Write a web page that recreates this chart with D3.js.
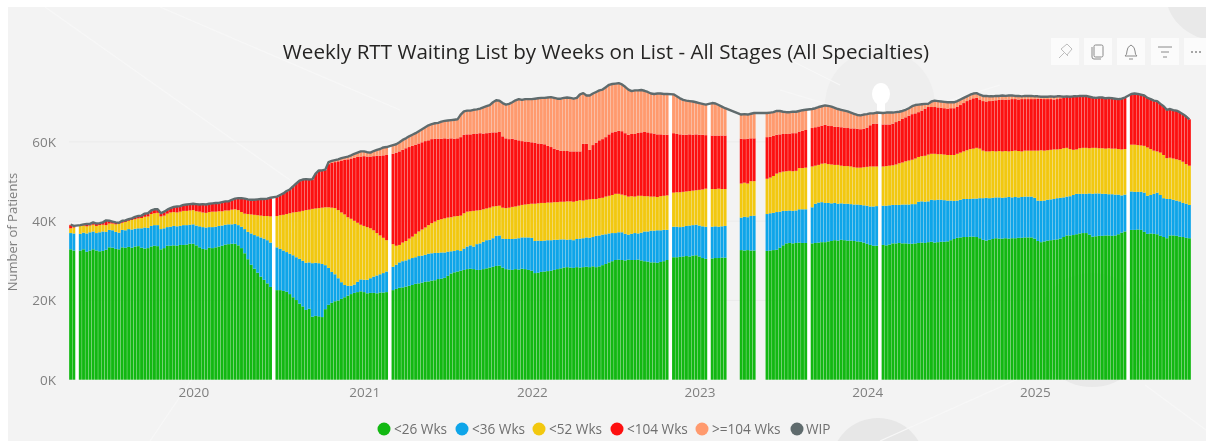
<!DOCTYPE html>
<html>
<head>
<meta charset="utf-8">
<script src="https://cdn.jsdelivr.net/npm/d3@7/dist/d3.min.js"></script>
<style>
html,body{margin:0;padding:0;background:#fff;overflow:hidden}
svg{display:block;filter:blur(0.45px)}
text{font-family:"Open Sans","Noto Sans",sans-serif}
</style>
</head>
<body>
<svg id="c" width="1206" height="441"></svg>
<script>
// Weekly levels, in thousands of patients.
// Each array is the running level at the TOP of a band; null = week with no data.
const _ = null;
const level26 = [
32.9,32.6,_,32.6,32.9,32.3,32.6,32.9,32.6,32.4,
32.5,32.8,33.4,33.3,33.0,32.9,33.4,33.3,33.5,33.3,
33.6,33.7,33.3,33.1,33.2,33.6,33.8,33.7,32.9,33.2,
33.8,33.8,33.9,33.8,34.0,34.0,34.1,34.3,34.3,33.9,
33.4,33.0,32.9,33.3,33.2,33.4,33.6,33.8,34.1,34.2,
34.3,34.3,33.9,33.2,31.9,30.4,29.0,28.0,27.0,26.0,
25.2,24.3,23.4,_,22.6,22.6,22.4,22.2,21.6,20.8,
20.1,19.2,18.5,17.6,17.9,15.9,16.1,16.0,15.8,17.8,
18.9,19.4,19.8,20.0,20.4,20.8,21.2,21.6,21.9,22.1,
22.3,22.1,21.8,21.9,21.9,21.8,22.0,22.0,22.1,_,
22.6,22.9,23.2,23.3,23.5,23.7,23.9,24.2,24.3,24.5,
24.7,24.8,25.0,25.1,25.4,25.5,25.7,26.2,26.8,27.1,
27.3,27.5,27.7,27.9,28.0,27.9,27.7,27.7,27.9,28.1,
28.3,28.5,28.7,28.8,28.3,27.9,27.8,27.7,27.9,27.8,
28.0,27.9,27.7,27.5,26.9,27.0,27.2,27.3,27.4,27.5,
27.7,27.9,28.1,28.3,28.4,28.3,28.2,28.4,28.3,28.4,
28.5,28.4,28.6,28.4,28.6,28.9,29.2,29.6,29.9,30.2,
30.3,30.2,30.1,30.3,30.2,30.2,30.3,30.1,29.9,29.8,
29.6,29.6,29.5,29.7,29.9,30.2,_,30.9,30.9,31.0,
31.1,31.2,31.1,31.3,31.4,31.1,30.7,30.5,_,30.6,
30.7,30.7,30.8,30.8,_,_,_,_,32.7,32.6,
32.7,32.6,32.6,_,_,_,32.5,32.6,32.7,32.8,
33.3,33.9,34.4,34.5,34.4,34.5,34.6,34.5,34.5,_,
34.4,34.5,34.6,34.7,34.7,34.9,35.0,35.2,35.1,35.3,
35.2,35.1,35.1,35.0,34.9,34.8,34.6,34.3,34.0,33.8,
33.8,_,34.0,33.9,34.1,34.4,34.4,34.5,34.4,34.4,
34.3,34.3,34.4,34.5,34.6,34.5,34.7,34.8,34.6,34.7,
34.8,34.8,34.9,35.2,35.5,35.8,35.9,36.0,36.0,36.1,
36.1,36.0,35.7,35.3,35.1,35.3,35.5,35.7,35.6,35.6,
35.7,35.6,35.7,35.7,35.8,35.8,35.9,35.9,35.9,35.6,
35.0,34.7,34.9,35.1,35.2,35.3,35.4,35.6,36.0,36.4,
36.4,36.5,36.7,36.9,37.0,37.0,36.6,36.1,36.2,36.3,
36.3,36.4,36.4,36.3,36.4,36.7,37.1,37.4,_,37.8,
37.8,37.9,37.8,37.3,36.8,36.9,36.8,36.7,36.3,36.0,
35.7,36.4,36.4,36.3,36.1,36.0,35.8,35.7];
const level36 = [
37.0,36.9,_,36.8,37.1,36.9,37.2,37.4,37.0,37.2,
37.4,37.3,37.8,37.7,37.3,37.1,37.8,37.7,38.0,37.9,
38.1,38.2,38.2,38.4,38.3,38.8,39.0,39.0,38.0,38.2,
38.5,38.6,38.8,38.7,38.8,39.0,39.0,39.1,39.2,38.9,
38.7,38.5,38.4,38.5,38.5,38.6,38.8,38.9,39.1,39.2,
39.2,39.3,39.0,38.6,38.0,37.3,36.9,36.5,36.2,35.9,
35.6,35.2,34.6,_,33.4,33.0,32.6,32.2,31.8,31.4,
30.9,30.5,30.0,29.5,29.6,29.4,29.5,29.4,29.2,28.9,
28.2,27.2,26.6,25.6,24.6,23.9,23.7,23.7,24.0,24.7,
25.3,25.2,25.2,25.6,26.0,26.3,26.6,26.9,27.3,_,
28.5,29.0,29.6,29.9,30.1,30.4,30.7,30.9,31.2,31.3,
31.5,31.8,31.9,32.0,32.0,32.1,32.1,32.3,32.4,32.5,
32.7,32.5,33.1,33.6,33.9,33.6,34.2,34.4,34.8,35.2,
35.3,35.7,36.3,36.4,35.6,35.5,35.5,35.5,35.6,35.7,
35.9,35.9,35.9,35.8,35.0,35.1,35.0,35.1,35.2,35.2,
35.3,35.3,35.4,35.4,35.3,35.4,35.2,35.5,35.6,35.7,
35.9,35.8,36.0,36.3,36.4,36.6,36.7,36.9,37.0,37.0,
37.2,37.2,36.8,36.6,36.8,37.0,36.9,37.1,37.4,37.4,
37.6,37.6,37.7,37.7,37.8,37.8,_,38.6,38.6,38.5,
38.6,38.8,38.9,39.0,39.1,38.9,38.7,38.6,_,38.6,
38.7,38.6,38.7,38.8,_,_,_,_,40.9,41.1,
41.0,41.3,41.4,_,_,_,41.8,42.0,42.1,42.3,
42.4,42.6,42.6,42.7,42.6,42.7,43.0,43.0,43.0,_,
43.5,44.4,44.7,44.8,44.6,44.6,44.5,44.6,44.4,44.5,
44.4,44.4,44.3,44.2,44.2,44.1,44.0,43.9,43.7,43.7,
43.8,_,43.9,43.9,44.0,44.1,44.1,44.1,44.2,44.2,
44.2,44.3,44.3,44.9,45.0,44.9,45.0,45.4,45.3,45.4,
45.4,45.3,45.2,45.2,45.1,45.2,45.4,45.6,45.6,45.6,
45.7,45.7,45.8,45.8,45.9,45.8,45.9,46.0,46.0,45.9,
46.0,46.1,46.0,46.1,46.0,46.1,46.2,46.2,46.2,45.9,
45.2,45.1,45.2,45.4,45.5,45.6,45.8,45.9,46.0,46.2,
46.3,46.6,46.9,46.9,46.9,46.9,47.0,46.9,47.0,47.0,
46.9,46.9,46.8,46.8,46.7,46.7,46.5,46.7,_,47.5,
47.4,47.4,47.4,47.2,46.4,46.6,46.9,47.2,46.6,45.8,
45.6,45.6,45.4,45.2,45.0,44.6,44.4,44.1];
const level52 = [
38.2,38.4,_,38.8,38.9,38.7,38.9,39.1,38.8,39.0,
39.1,39.0,39.4,39.4,39.2,39.3,39.6,39.8,40.1,40.3,
40.5,40.7,40.8,41.1,41.2,41.8,42.0,42.1,41.2,41.4,
41.9,42.2,42.3,42.2,42.4,42.6,42.6,42.7,42.8,42.5,
42.4,42.2,42.1,42.3,42.4,42.4,42.5,42.5,42.7,42.7,
42.9,43.0,42.8,42.3,41.9,41.8,41.7,41.6,41.5,41.4,
41.3,41.3,41.2,_,41.3,41.5,41.6,41.8,42.0,42.2,
42.3,42.4,42.6,42.8,42.9,43.1,43.2,43.3,43.4,43.5,
43.5,43.4,43.3,42.8,42.2,41.7,41.0,40.6,40.1,39.6,
39.1,38.8,38.5,38.2,37.7,37.0,36.4,35.8,35.2,_,
34.2,33.8,34.0,34.6,35.0,35.6,36.1,36.8,37.4,37.9,
38.4,39.0,39.5,39.9,40.3,40.5,40.7,40.9,41.0,41.2,
41.3,41.4,42.0,42.4,42.5,42.6,42.7,42.8,43.0,43.2,
43.4,43.7,43.8,43.9,43.4,43.3,43.4,43.6,43.7,43.9,
44.1,44.2,44.3,44.4,44.4,44.5,44.6,44.6,44.7,44.7,
44.8,44.8,44.9,44.9,45.0,45.0,44.9,45.1,45.3,45.2,
45.4,45.5,45.6,45.6,45.8,45.9,46.2,46.4,46.6,46.9,
46.9,46.7,46.5,46.2,46.3,46.2,46.4,46.4,46.3,46.3,
46.2,46.2,46.1,46.3,46.4,46.5,_,47.2,47.3,47.3,
47.4,47.5,47.6,47.7,47.8,47.9,48.0,48.2,_,48.1,
48.1,48.2,48.1,48.1,_,_,_,_,49.5,49.7,
49.5,50.1,50.1,_,_,_,50.7,51.0,51.4,52.0,
52.3,52.5,52.6,52.7,52.6,52.7,53.4,53.4,53.5,_,
53.8,54.0,54.2,54.5,54.6,54.4,54.3,54.2,54.2,54.0,
53.9,53.9,53.8,53.6,53.5,53.5,53.6,53.7,53.8,53.8,
53.8,_,53.8,53.9,54.0,54.1,54.3,54.6,54.8,55.1,
55.3,55.5,55.8,56.2,56.4,56.5,56.8,57.0,57.0,56.9,
56.9,56.8,56.7,56.7,56.7,57.0,57.3,57.6,57.9,58.2,
58.3,58.5,58.3,57.8,57.6,57.6,57.7,57.6,57.7,57.6,
57.7,57.6,57.7,57.8,57.7,57.6,57.8,57.8,57.8,57.8,
57.8,57.9,57.8,57.9,58.0,58.1,58.1,58.2,58.4,58.5,
58.2,58.0,58.1,58.4,58.5,58.5,58.4,58.5,58.5,58.4,
58.4,58.3,58.4,58.3,58.3,58.2,58.1,58.2,_,59.3,
59.3,59.2,59.1,59.0,58.6,58.2,57.8,57.6,57.3,56.7,
55.9,56.0,55.8,55.6,55.4,55.0,54.4,54.0];
const level104 = [
39.0,38.7,_,38.9,39.1,39.2,39.2,39.6,39.3,39.4,
39.6,40.1,40.0,39.8,39.6,39.5,40.0,40.1,40.4,40.6,
41.0,41.2,41.3,41.8,41.9,42.6,42.9,42.9,41.9,42.3,
42.8,43.2,43.5,43.6,43.7,44.0,44.1,44.2,44.3,44.2,
44.1,44.2,44.1,44.3,44.4,44.5,44.5,44.7,44.9,44.9,
45.3,45.6,45.7,45.7,45.6,45.4,45.3,45.3,45.4,45.5,
45.5,45.6,45.8,_,46.1,46.5,46.9,47.5,47.9,48.7,
49.4,50.1,50.4,50.5,50.4,50.5,51.9,52.7,52.7,52.9,
54.4,54.7,54.9,55.1,55.3,55.5,55.6,55.8,56.0,56.2,
56.3,56.4,56.3,56.3,56.4,56.5,56.5,56.6,56.7,_,
57.0,57.3,57.6,58.0,58.4,58.7,59.0,59.3,59.6,59.9,
60.2,60.4,60.7,60.8,60.8,60.8,60.9,60.8,60.9,60.8,
60.9,61.2,61.8,61.9,61.9,62.0,62.1,62.2,62.1,62.2,
62.3,62.4,62.4,62.5,61.4,60.9,60.7,60.8,60.6,60.4,
60.2,60.1,60.0,59.9,59.8,59.6,59.5,59.4,59.0,58.7,
58.3,58.0,57.8,57.7,57.7,57.6,57.6,57.6,57.6,59.5,
59.5,58.0,59.2,59.8,60.4,60.7,61.2,61.9,62.4,62.6,
62.8,62.7,62.2,61.8,62.0,62.0,62.3,62.4,62.5,62.4,
62.2,62.1,61.9,61.9,61.8,61.8,_,62.2,62.0,61.9,
61.8,61.8,61.9,61.8,61.9,61.8,61.8,61.7,_,61.6,
61.6,61.6,61.6,61.6,_,_,_,_,60.8,60.7,
60.8,60.9,60.9,_,_,_,61.2,61.3,61.5,61.8,
61.9,62.0,62.0,62.1,62.2,62.2,62.6,62.8,63.0,_,
63.5,63.7,63.9,64.1,64.3,64.1,64.0,63.8,63.8,63.7,
63.6,63.5,63.4,63.4,63.3,63.2,63.3,63.6,64.2,64.6,
64.6,_,64.4,64.4,64.4,64.6,65.0,65.3,65.8,66.2,
66.6,67.0,67.2,67.5,67.9,68.4,68.8,68.8,68.8,68.7,
68.6,68.5,68.4,68.5,68.5,68.9,69.3,69.8,70.3,70.7,
71.0,71.1,70.7,70.3,70.2,70.3,70.4,70.5,70.6,70.7,
70.6,70.7,70.8,70.8,70.7,70.8,70.8,70.8,70.8,70.8,
70.9,70.9,70.8,70.8,70.8,70.7,70.8,71.0,71.2,71.4,
71.4,71.5,71.5,71.6,71.6,71.6,71.4,71.2,71.1,71.2,
71.2,71.0,71.1,71.0,70.9,70.8,70.9,71.2,_,72.1,
72.2,72.1,71.9,71.7,71.1,70.8,70.4,70.3,69.6,69.0,
68.1,68.3,68.0,67.9,67.5,67.0,66.4,65.7];
const wip = [
39.1,38.8,_,39.0,39.2,39.3,39.3,39.7,39.4,39.5,
39.7,40.2,40.1,39.9,39.7,39.6,40.1,40.2,40.5,40.7,
41.1,41.3,41.4,41.9,42.0,42.7,43.0,43.0,42.0,42.4,
42.9,43.3,43.6,43.7,43.8,44.1,44.2,44.3,44.4,44.3,
44.2,44.3,44.2,44.4,44.5,44.6,44.6,44.8,45.0,45.0,
45.4,45.7,45.8,45.8,45.7,45.5,45.4,45.4,45.5,45.6,
45.6,45.7,45.9,_,46.2,46.6,47.0,47.6,48.0,48.8,
49.5,50.2,50.5,50.6,50.5,50.6,52.0,52.8,52.8,53.0,
54.9,55.2,55.4,55.6,55.9,56.1,56.3,56.6,57.0,57.3,
57.6,57.6,57.4,57.3,57.7,58.0,58.2,58.6,58.7,_,
59.2,59.4,59.9,60.5,60.9,61.4,61.8,62.2,62.7,63.2,
63.7,64.2,64.5,64.7,64.8,65.1,65.3,65.4,65.5,65.6,
65.7,66.9,67.7,67.9,67.9,68.1,68.2,68.4,68.7,69.0,
69.3,70.0,70.5,70.4,69.8,69.4,69.6,70.0,70.5,70.8,
70.6,70.8,70.8,70.8,70.9,71.0,71.1,71.1,71.2,71.3,
71.1,70.9,70.9,71.1,71.2,71.1,70.9,71.1,72.0,72.3,
71.7,71.7,72.2,72.6,73.0,73.2,73.8,74.4,74.6,74.7,
74.8,74.5,73.9,73.2,72.8,73.0,73.0,73.1,72.9,72.6,
72.2,72.1,72.2,72.2,72.1,72.1,_,72.0,71.5,71.0,
70.6,70.4,70.3,70.2,70.0,69.8,69.6,69.4,_,69.8,
69.7,69.3,68.9,68.5,_,_,_,_,66.9,67.0,
66.9,67.1,67.3,_,_,_,67.3,67.4,67.5,67.8,
67.8,67.6,67.5,67.5,67.6,67.6,67.8,68.0,68.1,_,
68.3,68.5,68.8,69.0,69.2,69.1,68.9,68.6,68.3,68.1,
67.9,67.7,67.4,67.1,66.8,66.7,66.9,67.0,67.2,67.2,
67.4,_,67.3,67.4,67.4,67.4,67.5,67.6,67.8,68.1,
68.5,69.0,69.3,69.4,69.5,69.6,69.6,70.2,70.4,70.3,
70.2,70.1,70.0,70.0,70.0,70.3,70.7,71.1,71.5,71.9,
72.2,72.3,71.9,71.6,71.6,71.5,71.5,71.6,71.6,71.7,
71.6,71.7,71.7,71.6,71.6,71.5,71.6,71.6,71.6,71.5,
71.5,71.4,71.4,71.4,71.5,71.4,71.5,71.5,71.4,71.5,
71.4,71.5,71.5,71.6,71.6,71.6,71.4,71.2,71.1,71.2,
71.2,71.0,71.1,71.0,70.9,70.8,70.9,71.2,_,72.1,
72.2,72.1,71.9,71.7,71.1,70.8,70.4,70.3,69.6,69.0,
68.1,68.3,68.0,67.9,67.5,67.0,66.4,65.7];

const seriesNames = ["<26 Wks","<36 Wks","<52 Wks","<104 Wks",">=104 Wks"];
const seriesColors = ["#12b812","#0ea5e9","#f2c80f","#fd1010","#ff9a6e"];
const lineName = "WIP", lineColor = "#5f6b6d";
const yearLabels = [2020,2021,2022,2023,2024,2025];
const yTicks = [0,20,40,60];
const titleText = "Weekly RTT Waiting List by Weeks on List - All Stages (All Specialties)";
const yTitle = "Number of Patients";

const W = 1206, H = 441;
const svg = d3.select("#c");
const weeks = d3.timeWeek.range(new Date(2019,2,31), new Date(2025,11,28)).slice(0, wip.length)
  .map(d => d3.timeDay.offset(d,1));

// panel + faint background artwork
svg.append("rect").attr("width",W).attr("height",H).attr("fill","#fff");
svg.append("rect").attr("x",8).attr("y",7).attr("width",W-8).attr("height",H-7).attr("fill","#f3f3f3");
const art = svg.append("g");
svg.append("clipPath").attr("id","p").append("rect").attr("x",8).attr("y",7).attr("width",W-8).attr("height",H-7);
art.attr("clip-path","url(#p)");
[[1215,-10,50,"#e9e9e9"],[880,105,55,"#eeeeee"],[878,465,47,"#e7e7e7"],[1092,330,57,"#e9e9e9"]].forEach(c=>
  art.append("circle").attr("cx",c[0]).attr("cy",c[1]).attr("r",c[2]).attr("fill",c[3]));
[[45,7,290,180],[160,7,400,110],[340,160,150,441],[1020,378,880,441],[1145,385,1206,430],[790,60,840,85],[780,90,830,105],[935,105,1000,85]].forEach(l=>
  art.append("line").attr("x1",l[0]).attr("y1",l[1]).attr("x2",l[2]).attr("y2",l[3]).attr("stroke","#f7f7f7").attr("stroke-width",1.2));
art.append("ellipse").attr("cx",881).attr("cy",94).attr("rx",9).attr("ry",11).attr("fill","#fff");
art.append("rect").attr("x",877).attr("y",100).attr("width",8).attr("height",14).attr("fill","#fff");

const x = d3.scaleBand().domain(weeks).range([69,1191]).paddingInner(0.1).paddingOuter(0.05);
const y = d3.scaleLinear().domain([0,60]).range([379.7,141.9]);

// gridlines
svg.append("g").selectAll("line").data(yTicks.slice(1)).join("line")
  .attr("x1",69).attr("x2",1191).attr("y1",d=>y(d)).attr("y2",d=>y(d))
  .attr("stroke","#ebebeb").attr("stroke-width",1);

// rows: band sizes derived from the levels
const rows = weeks.map((d,i)=>({
  date:d,
  [seriesNames[0]]:level26[i],
  [seriesNames[1]]:level36[i]===null?null:level36[i]-level26[i],
  [seriesNames[2]]:level52[i]===null?null:level52[i]-level36[i],
  [seriesNames[3]]:level104[i]===null?null:level104[i]-level52[i],
  [seriesNames[4]]:wip[i]===null?null:wip[i]-level104[i],
  total:wip[i]
}));
const present = rows.filter(r=>r.total!==null);
const stacked = d3.stack().keys(seriesNames)(present);

// single missing weeks show as white stripes in the reference
const singleGaps = rows.filter((r,i)=>r.total===null && rows[i-1] && rows[i+1] && rows[i-1].total!==null && rows[i+1].total!==null);
svg.append("g").selectAll("rect").data(singleGaps).join("rect")
  .attr("x",r=>x(r.date)-0.6).attr("width",x.step()+0.6)
  .attr("y",r=>y(rows[rows.indexOf(r)-1].total)).attr("height",r=>y(0)-y(rows[rows.indexOf(r)-1].total))
  .attr("fill","#ffffff");

svg.append("g").selectAll("g").data(stacked).join("g")
  .attr("fill",(d,i)=>seriesColors[i])
  .selectAll("rect").data(d=>d).join("rect")
  .attr("x",d=>x(d.data.date)).attr("width",x.bandwidth())
  .attr("y",d=>y(d[1])).attr("height",d=>Math.max(0,y(d[0])-y(d[1])));

// WIP line
const line = d3.line().x(d=>x(d.date)+x.bandwidth()/2).y(d=>y(d.total));
svg.append("path").datum(present).attr("d",line).attr("fill","none")
  .attr("stroke",lineColor).attr("stroke-width",2.4).attr("stroke-linejoin","round");

// axes
const yAxis = d3.axisLeft(y).tickValues(yTicks).tickSize(0).tickPadding(0).tickFormat(d=>d+"K");
const ya = svg.append("g").attr("transform","translate(56,0)").call(yAxis);
ya.select(".domain").remove();
ya.selectAll("text").attr("fill","#7f7f7f").attr("font-size",13.5).style("font-family",'"Open Sans",sans-serif');

const yearTicks = yearLabels.map(yr=>weeks.find(d=>d>=new Date(yr,0,1)-3*864e5));
const xAxis = d3.axisBottom(x).tickValues(yearTicks).tickSize(0).tickPadding(6).tickFormat(d=>d3.timeDay.offset(d,7).getFullYear());
const xa = svg.append("g").attr("transform","translate(-2.5,381)").call(xAxis);
xa.select(".domain").remove();
xa.selectAll("text").attr("fill","#7f7f7f").attr("font-size",13.5).style("font-family",'"Open Sans",sans-serif');

svg.append("text").attr("transform","translate(17,232) rotate(-90)").attr("text-anchor","middle")
  .attr("font-size",13).attr("fill","#7f7f7f").text(yTitle);

svg.append("text").attr("x",606).attr("y",59).attr("text-anchor","middle")
  .attr("font-size",20.6).attr("fill","#252423").text(titleText);

// legend
const legendX = [384,462,539,617,702,797];
const legendNames = seriesNames.concat([lineName]);
const legendColors = seriesColors.concat([lineColor]);
const leg = svg.append("g").selectAll("g").data(legendNames).join("g")
  .attr("transform",(d,i)=>`translate(${legendX[i]},429)`);
leg.append("circle").attr("r",6.5).attr("fill",(d,i)=>legendColors[i]);
leg.append("text").attr("x",(d,i)=>i===5?9:10).attr("y",4.5).attr("font-size",13.6).attr("fill","#6f6f6f").text(d=>d);

// visual header buttons
const btnX = [1051,1084,1117,1151,1184];
const btn = svg.append("g").selectAll("g").data(btnX).join("g").attr("transform",d=>`translate(${d},38)`);
btn.append("rect").attr("width",(d,i)=>i===4?22:28).attr("height",27).attr("fill","#fbfbfb");
const ink = "#8a8a8a";
const icon = i => d3.select(btn.nodes()[i]).append("g").attr("fill","none").attr("stroke",ink).attr("stroke-width",1);
icon(0).append("path").attr("stroke","#bdbdbd").attr("d","M8 20l5-5M10 11l6-5 5 5-5 6zM10 11l7 7");
const ic = icon(1);
ic.append("rect").attr("x",10).attr("y",7).attr("width",9).attr("height",12).attr("rx",1.5);
ic.append("path").attr("d","M8 9v10q0 2 2 2h7");
const bell = icon(2);
bell.append("path").attr("d","M8 18q2-1 2-5t4-6q4 2 4 6t2 5zM12 21h4");
const ft = icon(3);
ft.append("path").attr("d","M7 9h14M10 14h8M12 19h4");
d3.select(btn.nodes()[4]).selectAll("circle").data([8,12,16]).join("circle")
  .attr("cx",d=>d).attr("cy",14).attr("r",1).attr("fill",ink);
</script>
</body>
</html>
